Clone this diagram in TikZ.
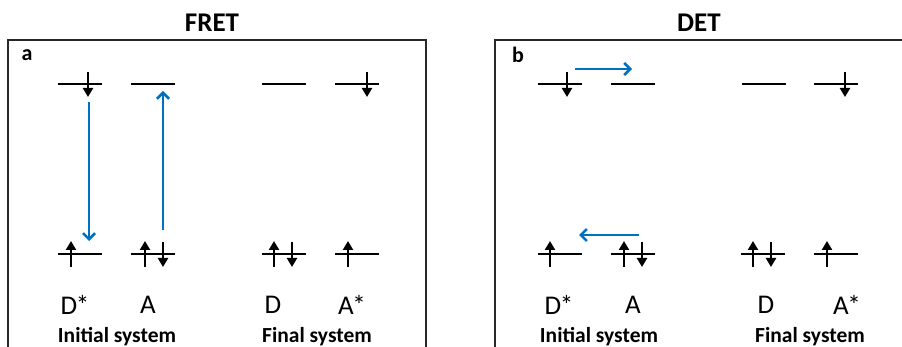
\documentclass[tikz,border=0pt]{standalone}
\usepackage{fontspec}
\setmainfont{Carlito}
\usetikzlibrary{arrows.meta}
\definecolor{xferblue}{RGB}{0,112,192}
\definecolor{framegray}{RGB}{40,40,40}
\tikzset{
  level/.style={line width=2.8pt, black},
  spinup/.style={line width=2.8pt, black, -{Triangle[length=9pt,width=10pt]}},
  spindown/.style={line width=2.8pt, black, -{Triangle[length=9pt,width=10pt]}},
  xfer/.style={line width=2.6pt, xferblue, -{Straight Barb[length=6pt,width=12pt,line width=2.6pt]}},
  frame/.style={line width=1.2pt, framegray},
  title/.style={font=\fontsize{27}{30}\selectfont\bfseries},
  panel/.style={font=\fontsize{22}{24}\selectfont\bfseries},
  species/.style={font=\fontsize{27}{30}\selectfont},
  sysname/.style={font=\fontsize{21.5}{24}\selectfont\bfseries}
}
% one orbital level: #1 = name, #2 = left x, #3 = y
\newcommand{\orblevel}[3]{%
  \coordinate (#1-l) at (#2,#3);
  \coordinate (#1-r) at ({#2+44},#3);
  \draw[level] (#1-l) -- (#1-r);}
% spin arrows: #1 = x, #2 = level y
\newcommand{\spinup}[2]{\draw[spinup] (#1,{#2+13}) -- (#1,{#2-13});}
\newcommand{\spindown}[2]{\draw[spindown] (#1,{#2-12}) -- (#1,{#2+13});}
% excited-state label with a tight asterisk
\newcommand{\exc}[1]{#1\kern-1.5pt*}
\begin{document}
\begin{tikzpicture}[x=1pt,y=-1pt]
\useasboundingbox (0,0) rectangle (902,347);

% frames and titles
\draw[frame] (8,352) -- (8,40) -- (426,40) -- (426,352);
\draw[frame] (495,352) -- (495,40) -- (910,40);
\node[title] (fret) at (212,23) {FRET};
\node[title] (det) at (699,23) {DET};
\node[panel] (pa) at (27,55) {a};
\node[panel] (pb) at (518,55) {b};

% ---------- panel a : FRET ----------
\orblevel{aDu}{58}{84}   \spindown{88}{84}
\orblevel{aAu}{131}{84}
\orblevel{aDl}{58}{254}  \spinup{71}{254}
\orblevel{aAl}{131}{254} \spinup{145}{254} \spindown{163}{254}
\orblevel{fDu}{262}{84}
\orblevel{fAu}{335}{84}  \spindown{367}{84}
\orblevel{fDl}{262}{254} \spinup{274}{254} \spindown{292}{254}
\orblevel{fAl}{335}{254} \spinup{348}{254}

\coordinate (aDown-s) at (89,102);
\coordinate (aDown-e) at (89,241);
\coordinate (aUp-s) at (163,230);
\coordinate (aUp-e) at (163,91);
\draw[xfer] (aDown-s) -- (aDown-e);
\draw[xfer] (aUp-s) -- (aUp-e);

\node[species] (aD) at (75,305) {\exc{D}};
\node[species] (aA) at (148,305) {A};
\node[species] (fD) at (273,305) {D};
\node[species] (fA) at (352,305) {\exc{A}};
\node[sysname] (ainit) at (117,337) {Initial system};
\node[sysname] (afin) at (317,337) {Final system};

% ---------- panel b : DET ----------
\orblevel{bDu}{538}{84}   \spindown{567}{84}
\orblevel{bAu}{611}{84}
\orblevel{bDl}{538}{254}  \spinup{550}{254}
\orblevel{bAl}{611}{254}  \spinup{624}{254} \spindown{642}{254}
\orblevel{gDu}{742}{84}
\orblevel{gAu}{814}{84}   \spindown{845}{84}
\orblevel{gDl}{741}{254}  \spinup{753}{254} \spindown{771}{254}
\orblevel{gAl}{814}{254}  \spinup{827}{254}

\coordinate (bTop-s) at (575,69);
\coordinate (bTop-e) at (632,69);
\coordinate (bBot-s) at (639,235);
\coordinate (bBot-e) at (579,235);
\draw[xfer] (bTop-s) -- (bTop-e);
\draw[xfer] (bBot-s) -- (bBot-e);

\node[species] (bD) at (559,305) {\exc{D}};
\node[species] (bA) at (633,305) {A};
\node[species] (gD) at (766,305) {D};
\node[species] (gA) at (847,305) {\exc{A}};
\node[sysname] (binit) at (599,337) {Initial system};
\node[sysname] (bfin) at (810,337) {Final system};
\end{tikzpicture}
\end{document}
